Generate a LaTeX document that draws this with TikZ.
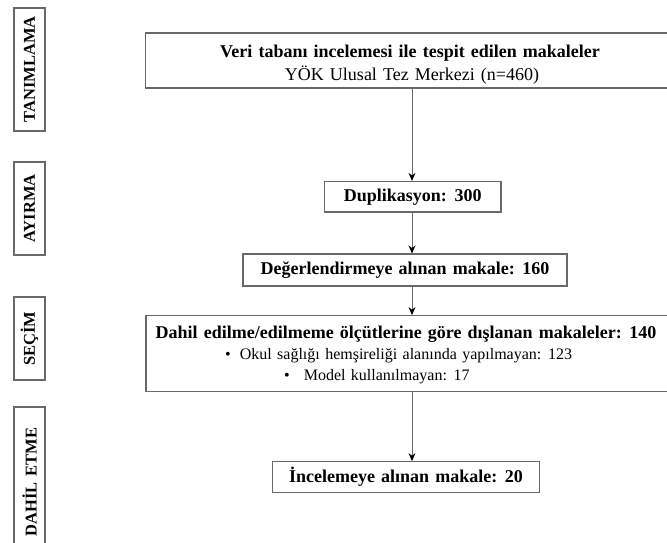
\documentclass[tikz,border=0pt]{standalone}
\usepackage{fontspec}
\setmainfont{Liberation Serif}[WordSpace=1.35]
\usetikzlibrary{arrows.meta}
\definecolor{linec}{RGB}{105,105,105}
\begin{document}
\begin{tikzpicture}[x=1pt,y=-1pt,
  box/.style={draw=linec, line width=1.2pt, inner sep=0pt, align=center},
  lab/.style={draw=linec, line width=1.2pt, rotate=90, inner sep=0pt, minimum height=31pt, font=\bfseries\fontsize{16.5}{18}\selectfont},
  arr/.style={draw=linec, line width=0.9pt, -{Stealth[length=8pt,width=7pt,black]}},
  fb/.style={font=\bfseries\fontsize{18}{21}\selectfont},
  fr/.style={font=\fontsize{18}{21}\selectfont},
  fs/.style={font=\fontsize{16}{21}\selectfont},
  txt/.style={inner sep=0pt, anchor=base},
]
\useasboundingbox (0,0) rectangle (667,543);
\clip (0,0) rectangle (667,543);

% left stage labels
\node[lab, minimum width=123pt] (l1) at (29.5,69.5) {TANIMLAMA};
\node[lab, minimum width=93pt] (l2) at (29.5,208.5) {AYIRMA};
\node[lab, minimum width=83pt] (l3) at (29.5,338.5) {SEÇİM};
\node[lab, minimum width=150pt] (l4) at (29.5,482) {DAHİL ETME};

% flow boxes
\node[box, minimum width=531pt, minimum height=55pt] (top) at (411,60.5) {};
\node[txt, fb] (t1) at (410,58) {Veri tabanı incelemesi ile tespit edilen makaleler};
\node[txt, fr] (t2) at (412,80.5) {YÖK Ulusal Tez Merkezi (n=460)};
\node[box, fb, minimum width=176.5pt, minimum height=30.5pt] (dup) at (412.75,196.75) {Duplikasyon: 300};
\node[box, fb, minimum width=324pt, minimum height=32pt] (deg) at (405,270) {Değerlendirmeye alınan makale: 160};
\node[box, minimum width=524pt, minimum height=76pt] (dah) at (408,353.7) {};
\node[txt, fb] (d1) at (406,338) {Dahil edilme/edilmeme ölçütlerine göre dışlanan makaleler: 140};
\node[txt, fs, anchor=base west] (d2) at (225,359) {\textbullet\hspace{9pt}Okul sağlığı hemşireliği alanında yapılmayan: 123};
\node[txt, fs, anchor=base west] (d3) at (284,380) {\textbullet\hspace{14pt}Model kullanılmayan: 17};
\node[box, fb, minimum width=266.6pt, minimum height=30.6pt] (inc) at (406,477) {İncelemeye alınan makale: 20};

% arrows
\coordinate (ax) at (412,0);
\draw[arr] (top.south -| ax) -- (dup.north -| ax);
\draw[arr] (dup.south -| ax) -- (deg.north -| ax);
\draw[arr] (deg.south -| ax) -- (dah.north -| ax);
\draw[arr] (dah.south -| ax) -- (inc.north -| ax);
\end{tikzpicture}
\end{document}
